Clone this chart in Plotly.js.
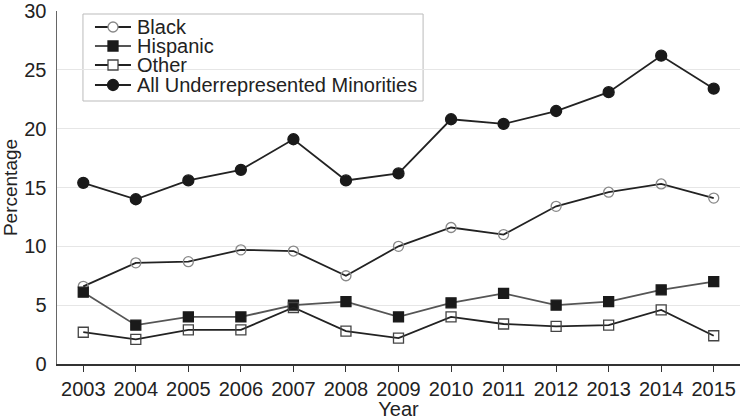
<!DOCTYPE html>
<html>
<head>
<meta charset="utf-8">
<script src="https://cdn.plot.ly/plotly-3.0.1.min.js"></script>
<style>html,body{margin:0;padding:0;background:#fff;}#chart{width:741px;height:420px;}</style>
</head>
<body>
<div id="chart"></div>
<script>
var years = [2003, 2004, 2005, 2006, 2007, 2008, 2009, 2010, 2011, 2012, 2013, 2014, 2015];
var black = [6.6, 8.6, 8.7, 9.7, 9.6, 7.5, 10.0, 11.6, 11.0, 13.4, 14.6, 15.3, 14.1];
var hispanic = [6.1, 3.3, 4.0, 4.0, 5.0, 5.3, 4.0, 5.2, 6.0, 5.0, 5.3, 6.3, 7.0];
var other = [2.7, 2.1, 2.9, 2.9, 4.8, 2.8, 2.2, 4.0, 3.4, 3.2, 3.3, 4.6, 2.4];
var allURM = [15.4, 14.0, 15.6, 16.5, 19.1, 15.6, 16.2, 20.8, 20.4, 21.5, 23.1, 26.2, 23.4];
var seriesNames = ['Black', 'Hispanic', 'Other', 'All Underrepresented Minorities'];
var yTicks = [0, 5, 10, 15, 20, 25, 30];

var styles = [
  {line: '#222', shape: 'circle', fill: 'rgba(0,0,0,0)', edge: '#888', size: 10},
  {line: '#555', shape: 'rect', fill: '#1a1a1a', edge: '#1a1a1a', size: 10},
  {line: '#222', shape: 'rect', fill: 'rgba(0,0,0,0)', edge: '#444', size: 10},
  {line: '#222', shape: 'circle', fill: '#1a1a1a', edge: '#1a1a1a', size: 11}
];
var symbolMap = {
  'circle|open': 'circle-open', 'circle|filled': 'circle',
  'rect|open': 'square-open', 'rect|filled': 'square'
};
var seriesData = [black, hispanic, other, allURM];

var traces = seriesData.map(function (vals, i) {
  var s = styles[i];
  var open = s.fill.indexOf('rgba') === 0;
  return {
    x: years, y: vals, name: seriesNames[i], mode: 'lines+markers', showlegend: false,
    line: {color: s.line, width: 1.8},
    marker: {symbol: symbolMap[s.shape + '|' + (open ? 'open' : 'filled')], size: s.size,
             color: open ? s.edge : s.fill, line: {width: 1.3, color: s.edge}}
  };
});

// Legend drawn as a boxed key (paper coordinates)
var legBox = {x0: 0.038, x1: 0.536, y0: 0.745, y1: 0.9915};
var legRows = [0.9547, 0.9008, 0.8470, 0.7904];
var shapes = [{type: 'rect', xref: 'paper', yref: 'paper', layer: 'below',
  x0: legBox.x0, x1: legBox.x1, y0: legBox.y0, y1: legBox.y1,
  fillcolor: '#fff', line: {color: '#bbb', width: 1}}];
var annotations = [];
legRows.forEach(function (yy, i) {
  var s = styles[i];
  shapes.push({type: 'line', xref: 'paper', yref: 'paper', layer: 'above',
    x0: 0.0556, x1: 0.1083, y0: yy, y1: yy, line: {color: s.line, width: 1.8}});
  var r = s.size / 2;
  shapes.push({type: s.shape, xref: 'paper', yref: 'paper', layer: 'above',
    xsizemode: 'pixel', ysizemode: 'pixel', xanchor: 0.082, yanchor: yy,
    x0: -r, x1: r, y0: -r, y1: r,
    fillcolor: s.fill.indexOf('rgba') === 0 ? '#fff' : s.fill,
    line: {color: s.edge, width: 1.3}});
  annotations.push({xref: 'paper', yref: 'paper', x: 0.1142, y: yy, xanchor: 'left', yanchor: 'middle',
    text: seriesNames[i], showarrow: false, font: {size: 20, color: '#222'}});
});

var layout = {
  width: 741, height: 420,
  margin: {l: 57, r: 1, t: 11, b: 56},
  paper_bgcolor: '#fff', plot_bgcolor: '#fff',
  font: {family: 'Liberation Sans, Arial, sans-serif', size: 20, color: '#222'},
  showlegend: false,
  shapes: shapes,
  annotations: annotations,
  xaxis: {
    range: [2002.5, 2015.5], tickmode: 'array', tickvals: years, ticktext: years.map(String),
    showgrid: false, zeroline: false, showline: true, linecolor: '#333', linewidth: 1.5,
    ticks: 'outside', ticklen: 6, tickcolor: '#333', tickfont: {size: 20, color: '#222'},
    title: {text: 'Year', font: {size: 20, color: '#222'}, standoff: 6}
  },
  yaxis: {
    range: [0, 30], tickmode: 'array', tickvals: yTicks, ticktext: yTicks.map(String),
    showgrid: true, gridcolor: '#e6e6e6', gridwidth: 1, zeroline: false,
    showline: true, linecolor: '#666', linewidth: 1.5, ticks: '', ticklabelstandoff: 5,
    ticklabeloverflow: 'allow', tickfont: {size: 20, color: '#222'},
    title: {text: 'Percentage', font: {size: 19, color: '#222'}, standoff: 6}
  }
};

Plotly.newPlot('chart', traces, layout, {displayModeBar: false, staticPlot: true});
</script>
</body>
</html>
